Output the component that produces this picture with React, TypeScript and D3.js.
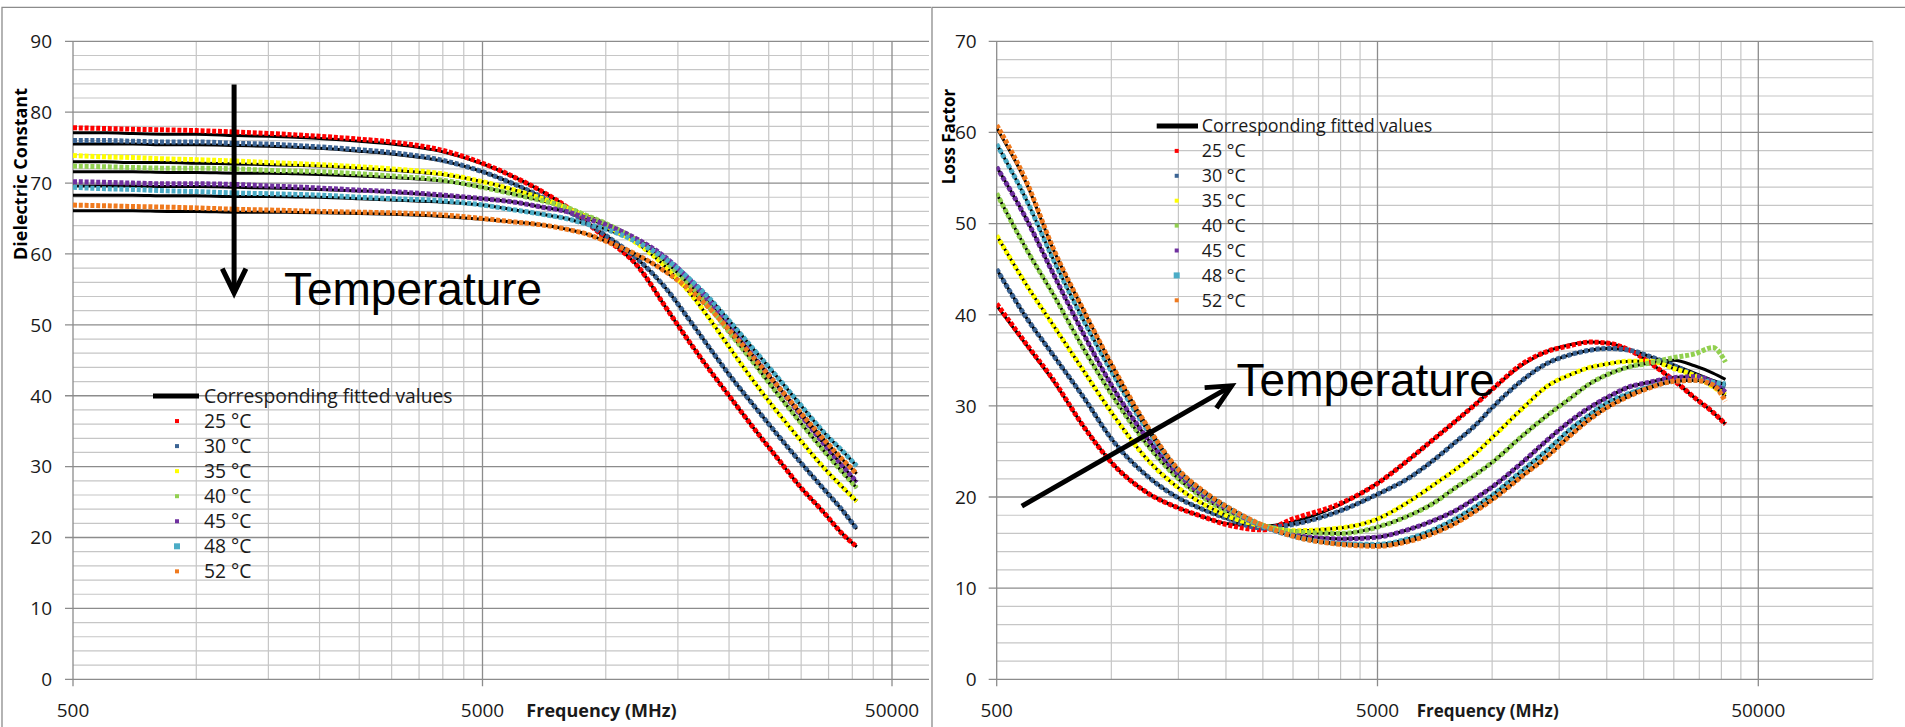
import React from 'react';
import * as d3 from 'd3';

// ---------- data ----------
const FREQ_MHZ = [500, 600, 700, 850, 1000, 1250, 1500, 1750, 2000, 2500, 3000, 4000, 5000, 6000, 7000, 8000, 9000, 10000, 12000, 14000, 16000, 18000, 20000, 23000, 26000, 30000, 34000, 38000, 41000];

const TEMP_LABELS = ['25 °C', '30 °C', '35 °C', '40 °C', '45 °C', '48 °C', '52 °C'];
const SERIES_COLORS = ['#FF0000', '#3B6494', '#FFFF00', '#92D050', '#7030A0', '#4BACC6', '#F07A1E'];

// Dielectric constant (measured)
const DC_25 = [77.8, 77.7, 77.6, 77.5, 77.4, 77.2, 77.0, 76.8, 76.6, 76.2, 75.8, 74.6, 72.8, 70.8, 68.8, 66.7, 64.4, 62.2, 58.2, 52.5, 47.6, 43.5, 40.0, 35.4, 31.5, 27.0, 23.6, 20.4, 18.7];
const DC_30 = [76.0, 76.0, 75.9, 75.8, 75.8, 75.6, 75.5, 75.3, 75.1, 74.7, 74.3, 73.2, 71.6, 69.8, 68.0, 66.2, 64.4, 62.6, 59.2, 55.2, 50.7, 46.6, 43.0, 38.6, 34.8, 30.5, 26.9, 23.7, 21.2];
const DC_35 = [73.9, 73.7, 73.6, 73.4, 73.3, 73.1, 72.9, 72.75, 72.6, 72.3, 72.0, 71.3, 70.2, 69.0, 67.8, 66.5, 65.2, 64.0, 61.4, 58.2, 54.6, 50.7, 46.9, 42.0, 38.0, 33.6, 29.9, 27.0, 25.1];
const DC_40 = [72.4, 72.3, 72.2, 72.1, 72.1, 72.0, 71.8, 71.7, 71.6, 71.3, 71.0, 70.4, 69.4, 68.4, 67.5, 66.6, 65.4, 64.3, 61.8, 58.9, 55.7, 52.4, 49.0, 44.6, 40.6, 36.1, 32.3, 29.1, 27.0];
const DC_45 = [70.2, 70.1, 70.0, 69.9, 69.9, 69.8, 69.6, 69.45, 69.3, 69.0, 68.8, 68.3, 67.8, 67.3, 66.6, 66.0, 65.0, 64.1, 62.0, 59.5, 56.4, 53.2, 49.9, 45.5, 41.7, 37.2, 33.3, 30.0, 27.8];
const DC_48 = [69.4, 69.2, 69.1, 68.9, 68.8, 68.6, 68.5, 68.4, 68.3, 68.0, 67.8, 67.5, 66.9, 66.2, 65.6, 65.0, 64.2, 63.5, 61.6, 59.3, 56.5, 53.6, 50.6, 46.5, 42.9, 38.6, 34.9, 32.1, 30.1];
const DC_52 = [66.9, 66.8, 66.7, 66.6, 66.5, 66.3, 66.2, 66.1, 66.0, 65.9, 65.8, 65.5, 65.0, 64.5, 64.1, 63.5, 62.8, 61.8, 59.8, 57.5, 55.0, 52.2, 49.3, 45.3, 41.7, 37.5, 33.9, 30.9, 29.0];

// Dielectric constant (fitted)
const DC_25_FIT = [77.1, 77.1, 77.0, 76.9, 76.9, 76.7, 76.6, 76.45, 76.3, 75.9, 75.5, 74.4, 72.7, 70.8, 68.8, 66.7, 64.4, 62.2, 58.2, 52.5, 47.6, 43.5, 40.0, 35.4, 31.5, 27.0, 23.6, 20.4, 18.7];
const DC_30_FIT = [75.5, 75.5, 75.5, 75.4, 75.4, 75.3, 75.2, 75.05, 74.9, 74.5, 74.1, 73.1, 71.6, 69.8, 68.0, 66.2, 64.4, 62.6, 59.2, 55.2, 50.7, 46.6, 43.0, 38.6, 34.8, 30.5, 26.9, 23.7, 21.2];
const DC_35_FIT = [73.0, 73.0, 72.9, 72.9, 72.8, 72.7, 72.6, 72.5, 72.4, 72.1, 71.8, 71.2, 70.2, 69.0, 67.8, 66.5, 65.2, 64.0, 61.4, 58.2, 54.6, 50.7, 46.9, 42.0, 38.0, 33.6, 29.9, 27.0, 25.1];
const DC_40_FIT = [71.6, 71.6, 71.6, 71.5, 71.5, 71.4, 71.4, 71.3, 71.2, 71.0, 70.8, 70.3, 69.4, 68.4, 67.5, 66.6, 65.4, 64.3, 61.8, 58.9, 55.7, 52.4, 49.0, 44.6, 40.6, 36.1, 32.3, 29.1, 27.0];
const DC_45_FIT = [69.6, 69.6, 69.6, 69.5, 69.5, 69.4, 69.3, 69.2, 69.1, 68.9, 68.7, 68.2, 67.8, 67.3, 66.6, 66.0, 65.0, 64.1, 62.0, 59.5, 56.4, 53.2, 49.9, 45.5, 41.7, 37.2, 33.3, 30.0, 27.8];
const DC_48_FIT = [68.3, 68.3, 68.3, 68.2, 68.2, 68.1, 68.1, 68.05, 68.0, 67.8, 67.6, 67.3, 66.9, 66.2, 65.6, 65.0, 64.2, 63.5, 61.6, 59.3, 56.5, 53.6, 50.6, 46.5, 42.9, 38.6, 34.9, 32.1, 30.1];
const DC_52_FIT = [66.1, 66.1, 66.1, 66.0, 66.0, 65.9, 65.9, 65.85, 65.8, 65.7, 65.6, 65.3, 64.9, 64.5, 64.1, 63.5, 62.8, 61.8, 59.8, 57.5, 55.0, 52.2, 49.3, 45.3, 41.7, 37.5, 33.9, 30.9, 29.0];

// Loss factor (measured)
const LF_25 = [41.2, 36.7, 33.0, 27.6, 23.8, 20.4, 18.8, 17.8, 17.0, 16.4, 17.6, 19.3, 21.5, 24.0, 26.3, 28.3, 30.1, 31.8, 34.6, 36.0, 36.6, 37.0, 36.9, 36.1, 34.7, 32.8, 30.9, 29.3, 28.0];
const LF_30 = [45.0, 39.6, 35.7, 30.8, 26.4, 22.2, 19.9, 18.6, 17.7, 16.6, 17.0, 18.5, 20.3, 22.0, 24.0, 26.0, 27.8, 29.8, 32.8, 34.7, 35.6, 36.1, 36.3, 36.1, 35.4, 34.4, 33.4, 32.6, 32.1];
const LF_35 = [48.7, 43.2, 39.0, 33.7, 29.3, 24.0, 21.0, 19.2, 18.0, 16.8, 16.3, 16.6, 17.6, 19.4, 21.3, 23.0, 24.7, 26.5, 29.7, 32.2, 33.4, 34.2, 34.6, 34.9, 34.9, 34.1, 33.3, 32.1, 31.2];
const LF_40 = [53.3, 47.1, 42.4, 36.1, 31.3, 25.6, 22.0, 19.9, 18.5, 16.9, 16.2, 16.0, 16.7, 17.9, 19.3, 21.0, 22.4, 23.8, 26.7, 29.0, 30.8, 32.4, 33.4, 34.3, 34.7, 35.3, 35.7, 36.4, 34.8];
const LF_45 = [56.2, 50.4, 44.7, 37.7, 32.3, 26.3, 22.5, 20.2, 18.8, 16.8, 15.8, 15.4, 15.6, 16.4, 17.4, 18.5, 19.8, 21.1, 23.8, 26.3, 28.3, 29.8, 30.9, 32.1, 32.6, 33.1, 33.2, 32.6, 31.5];
const LF_48 = [58.7, 52.5, 46.3, 39.2, 33.8, 27.2, 22.9, 20.5, 19.0, 16.8, 15.7, 14.9, 14.8, 15.4, 16.4, 17.6, 18.9, 20.2, 22.9, 25.2, 27.4, 29.0, 30.3, 31.4, 32.1, 32.7, 32.8, 32.6, 32.4];
const LF_52 = [60.8, 54.5, 47.5, 40.3, 34.6, 27.6, 23.0, 20.6, 19.0, 16.9, 15.7, 14.8, 14.6, 15.1, 16.0, 17.1, 18.4, 19.7, 22.3, 24.5, 26.7, 28.5, 29.8, 31.1, 32.0, 32.7, 32.8, 32.3, 30.5];

// Loss factor (fitted)
const LF_25_FIT = [41.0, 36.6, 32.9, 27.6, 23.8, 20.4, 18.8, 17.8, 17.1, 16.8, 17.3, 19.2, 21.5, 24.0, 26.3, 28.3, 30.1, 31.8, 34.5, 36.0, 36.7, 37.0, 36.9, 36.1, 34.7, 32.8, 30.9, 29.3, 28.0];
const LF_30_FIT = [45.0, 39.6, 35.7, 30.8, 26.4, 22.2, 19.9, 18.6, 17.7, 16.7, 17.0, 18.5, 20.3, 22.0, 24.0, 26.0, 27.8, 29.8, 32.8, 34.7, 35.6, 36.1, 36.3, 36.1, 35.4, 34.5, 33.6, 32.8, 32.3];
const LF_35_FIT = [48.7, 43.2, 39.0, 33.7, 29.3, 24.0, 21.0, 19.2, 18.0, 16.8, 16.3, 16.6, 17.6, 19.4, 21.3, 23.0, 24.7, 26.5, 29.7, 32.2, 33.4, 34.2, 34.6, 34.9, 34.9, 34.1, 33.3, 32.1, 31.2];
const LF_40_FIT = [53.3, 47.1, 42.4, 36.1, 31.3, 25.6, 22.0, 19.9, 18.5, 16.9, 16.2, 16.0, 16.7, 17.9, 19.3, 21.0, 22.4, 23.8, 26.7, 29.0, 30.8, 32.4, 33.4, 34.3, 34.7, 35.0, 34.4, 33.6, 32.9];
const LF_45_FIT = [56.2, 50.4, 44.7, 37.7, 32.3, 26.3, 22.5, 20.2, 18.8, 16.8, 15.8, 15.4, 15.6, 16.4, 17.4, 18.5, 19.8, 21.1, 23.8, 26.3, 28.3, 29.8, 30.9, 32.1, 32.6, 33.1, 33.2, 32.6, 31.5];
const LF_48_FIT = [58.7, 52.5, 46.3, 39.2, 33.8, 27.2, 22.9, 20.5, 19.0, 16.8, 15.7, 14.9, 14.8, 15.4, 16.4, 17.6, 18.9, 20.2, 22.9, 25.2, 27.4, 29.0, 30.3, 31.4, 32.1, 32.7, 32.8, 32.6, 32.4];
const LF_52_FIT = [60.5, 54.3, 47.4, 40.3, 34.6, 27.6, 23.0, 20.6, 19.0, 16.9, 15.7, 14.8, 14.6, 15.1, 16.0, 17.1, 18.4, 19.7, 22.3, 24.5, 26.7, 28.5, 29.8, 31.1, 32.0, 32.7, 32.8, 32.3, 31.0];

const X_TICK_LABELS = [500, 5000, 50000];
const DC_Y_TICKS = [0, 10, 20, 30, 40, 50, 60, 70, 80, 90];
const LF_Y_TICKS = [0, 10, 20, 30, 40, 50, 60, 70];

// annotation anchors in data space: [freq, value]
const DC_ARROW = { from: [1237, 83.9], to: [1237, 54.5], label: [1637, 52.8] };
const LF_ARROW = { from: [582, 19.0], to: [2069, 32.2], label: [2133, 31.1] };

const DC_SERIES = [DC_25, DC_30, DC_35, DC_40, DC_45, DC_48, DC_52];
const DC_FITS = [DC_25_FIT, DC_30_FIT, DC_35_FIT, DC_40_FIT, DC_45_FIT, DC_48_FIT, DC_52_FIT];
const LF_SERIES = [LF_25, LF_30, LF_35, LF_40, LF_45, LF_48, LF_52];
const LF_FITS = [LF_25_FIT, LF_30_FIT, LF_35_FIT, LF_40_FIT, LF_45_FIT, LF_48_FIT, LF_52_FIT];

const FONT = "'Open Sans', 'DejaVu Sans', sans-serif";
const MAJOR = '#8C8C8C';
const MINOR = '#C6C6C6';

type PanelProps = {
  id: string;
  left: number; right: number; top: number; bottom: number;
  xRange: [number, number];
  yMax: number;
  yTicks: number[];
  yTitle: string;
  yTitlePos: [number, number];
  tickLabelRight: number;
  series: number[][];
  fits: number[][];
  legend: { lineX: [number, number]; y: number; markerX: number; textX: number; step: number; font: number };
  titleFont: number;
  xTitleX: number;
  arrow: { from: number[]; to: number[]; label: number[] };
};

function Panel(p: PanelProps) {
  const x = d3.scaleLog().domain([500, 50000]).range(p.xRange);
  const y = d3.scaleLinear().domain([0, p.yMax]).range([p.bottom, p.top]);

  const minorX: number[] = [];
  [500, 5000, 50000].forEach((b) => {
    for (let k = 2; k <= 9; k++) {
      const v = b * k;
      if (x(v) <= p.right + 0.5) minorX.push(v);
    }
  });
  const majorX = X_TICK_LABELS.filter((v) => x(v) <= p.right + 0.5);
  const minorY = d3.range(0, p.yMax + 0.001, 2).filter((v) => v % 10 !== 0);

  const line = d3
    .line<number>()
    .x((_, i) => x(FREQ_MHZ[i]))
    .y((d) => y(d))
    .curve(d3.curveMonotoneX);

  const ax = (pt: number[]) => [x(pt[0]), y(pt[1])];
  const [ax0, ay0] = ax(p.arrow.from);
  const [ax1, ay1] = ax(p.arrow.to);
  const ang = Math.atan2(ay0 - ay1, ax0 - ax1);
  const headLen = 27;
  const spread = (26 * Math.PI) / 180;
  const h1 = [ax1 + headLen * Math.cos(ang + spread), ay1 + headLen * Math.sin(ang + spread)];
  const h2 = [ax1 + headLen * Math.cos(ang - spread), ay1 + headLen * Math.sin(ang - spread)];
  const [lx, ly] = ax(p.arrow.label);

  return (
    <g>
      <defs>
        <clipPath id={`clip-${p.id}`}>
          <rect x={p.left} y={p.top - 6} width={p.right - p.left} height={p.bottom - p.top + 6} />
        </clipPath>
      </defs>
      {minorY.map((v) => (
        <line key={`my${v}`} x1={p.left} x2={p.right} y1={y(v)} y2={y(v)} stroke={MINOR} strokeWidth={1.2} />
      ))}
      {minorX.map((v) => (
        <line key={`mx${v}`} x1={x(v)} x2={x(v)} y1={p.top} y2={p.bottom} stroke={MINOR} strokeWidth={1.2} />
      ))}
      {p.yTicks.map((v) => (
        <line key={`My${v}`} x1={p.left - 8} x2={p.right} y1={y(v)} y2={y(v)} stroke={MAJOR} strokeWidth={1.3} />
      ))}
      {majorX.map((v) => (
        <line key={`Mx${v}`} x1={x(v)} x2={x(v)} y1={p.top} y2={p.bottom + 7} stroke={MAJOR} strokeWidth={1.3} />
      ))}

      <g clipPath={`url(#clip-${p.id})`}>
        {p.fits.map((s, i) => (
          <path key={`f${i}`} d={line(s) || ''} fill="none" stroke="#000" strokeWidth={3} />
        ))}
        {p.series.map((s, i) => (
          <path
            key={`s${i}`}
            d={line(s) || ''}
            fill="none"
            stroke={SERIES_COLORS[i]}
            strokeWidth={5}
            strokeDasharray="4 1.8"
          />
        ))}
      </g>

      {p.yTicks.map((v) => (
        <text key={`yl${v}`} x={p.tickLabelRight} y={y(v)} dy="0.36em" textAnchor="end" fontFamily={FONT} fontSize={19} fill="#1a1a1a">
          {v}
        </text>
      ))}
      {majorX.map((v) => (
        <text key={`xl${v}`} x={x(v)} y={716.5} textAnchor="middle" fontFamily={FONT} fontSize={19} fill="#1a1a1a">
          {v}
        </text>
      ))}
      <text x={p.xTitleX} y={716.5} textAnchor="middle" fontFamily={FONT} fontSize={p.titleFont} fontWeight="bold" fill="#1a1a1a">
        Frequency (MHz)
      </text>
      <text
        transform={`translate(${p.yTitlePos[0]},${p.yTitlePos[1]}) rotate(-90)`}
        textAnchor="middle"
        fontFamily={FONT}
        fontSize={p.titleFont}
        fontWeight="bold"
        fill="#000"
      >
        {p.yTitle}
      </text>

      <line x1={p.legend.lineX[0]} x2={p.legend.lineX[1]} y1={p.legend.y} y2={p.legend.y} stroke="#000" strokeWidth={5} />
      <text x={p.legend.textX} y={p.legend.y} dy="0.36em" fontFamily={FONT} fontSize={p.legend.font} fill="#1a1a1a">
        Corresponding fitted values
      </text>
      {TEMP_LABELS.map((t, i) => {
        const yy = p.legend.y + (i + 1) * p.legend.step;
        const sz = i === 5 ? 6 : 4;
        return (
          <g key={t}>
            <rect x={p.legend.markerX - sz / 2} y={yy - sz / 2} width={sz} height={sz} fill={SERIES_COLORS[i]} />
            <text x={p.legend.textX} y={yy} dy="0.36em" fontFamily={FONT} fontSize={p.legend.font} fill="#1a1a1a">
              {t}
            </text>
          </g>
        );
      })}

      <line x1={ax0} y1={ay0} x2={ax1} y2={ay1} stroke="#000" strokeWidth={5} />
      <path d={`M${h1[0]},${h1[1]} L${ax1},${ay1} L${h2[0]},${h2[1]}`} fill="none" stroke="#000" strokeWidth={5} strokeLinejoin="miter" />
      <text x={lx} y={ly} fontFamily="'Liberation Sans', Arial, sans-serif" fontSize={46} fill="#000">
        Temperature
      </text>
    </g>
  );
}

export default function App() {
  return (
    <svg
      width={1905}
      height={727}
      style={{ position: 'fixed', left: 0, top: 0, display: 'block', background: '#fff' }}
    >
      <rect x={0} y={0} width={1905} height={727} fill="#fff" />
      <path d="M2,727 V7.3 H931" fill="none" stroke="#8C8C8C" strokeWidth={1.3} />
      <path d="M932,727 V7.3 H1905" fill="none" stroke="#8C8C8C" strokeWidth={1.3} />

      <Panel
        id="dc"
        left={73}
        right={929}
        top={41.3}
        bottom={679.3}
        xRange={[73, 892]}
        yMax={90}
        yTicks={DC_Y_TICKS}
        yTitle="Dielectric Constant"
        yTitlePos={[26.5, 174]}
        tickLabelRight={52}
        series={DC_SERIES}
        fits={DC_FITS}
        legend={{ lineX: [153, 199], y: 396, markerX: 177, textX: 204, step: 25.05, font: 19.3 }}
        titleFont={18}
        xTitleX={601.5}
        arrow={DC_ARROW}
      />
      <Panel
        id="lf"
        left={996.7}
        right={1872.7}
        top={41.3}
        bottom={679.3}
        xRange={[996.7, 1758.3]}
        yMax={70}
        yTicks={LF_Y_TICKS}
        yTitle="Loss Factor"
        yTitlePos={[955, 136.5]}
        tickLabelRight={976.7}
        series={LF_SERIES}
        fits={LF_FITS}
        legend={{ lineX: [1156.7, 1198], y: 126, markerX: 1176.7, textX: 1201.7, step: 24.9, font: 17.9 }}
        titleFont={17}
        xTitleX={1487.7}
        arrow={LF_ARROW}
      />
    </svg>
  );
}
